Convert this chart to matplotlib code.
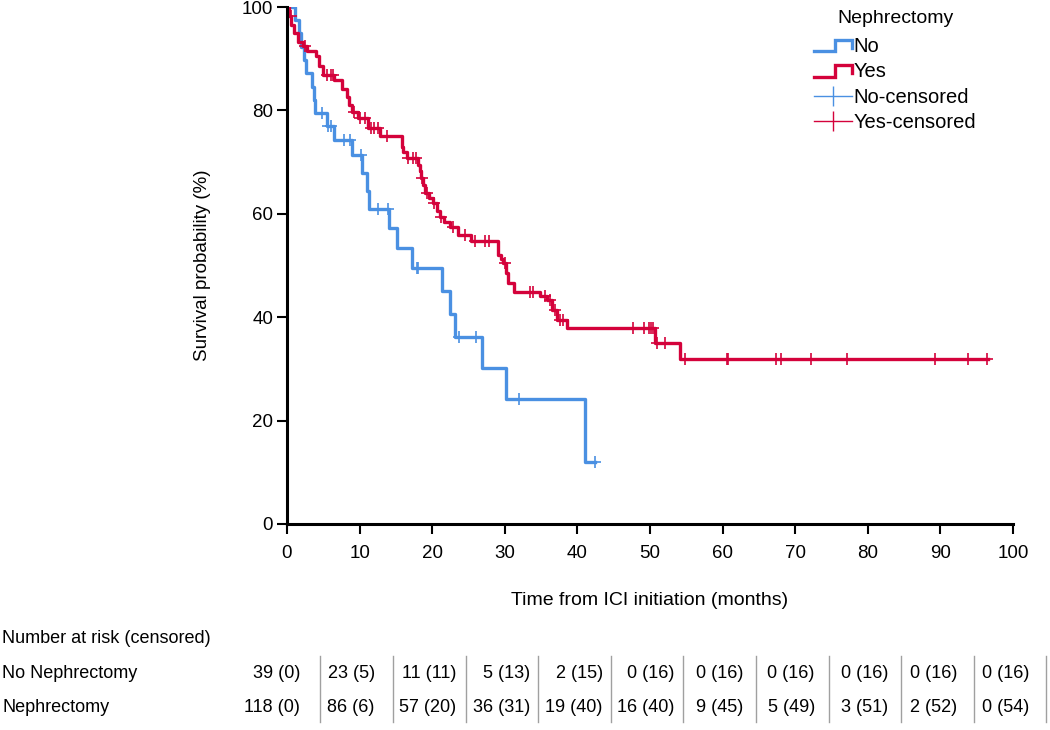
import numpy as np
import matplotlib
matplotlib.use('Agg')
import matplotlib.pyplot as plt
import matplotlib.transforms as mtransforms
from matplotlib.lines import Line2D
from matplotlib.legend_handler import HandlerBase

plt.rcParams['font.family'] = ['Liberation Sans', 'DejaVu Sans']
plt.rcParams['font.size'] = 13

# Kaplan-Meier steps, No nephrectomy
no_times = [0, 1.1, 1.6, 2.0, 2.3, 2.6, 3.5, 3.7, 3.9, 5.5, 6.5, 8.9, 10.4, 11.0, 11.3,
            14.0, 15.1, 17.2, 21.4, 22.5, 23.1, 26.9, 30.1, 41.0]
no_surv = [100, 97.4, 94.9, 92.3, 89.7, 87.2, 84.6, 82.1, 79.5, 77.0, 74.3, 71.4, 67.8, 64.5, 61.0,
           57.2, 53.4, 49.6, 45.1, 40.6, 36.1, 30.1, 24.1, 12.0]
no_end = 42.4
no_cens = [4.8, 5.6, 6.0, 7.8, 8.7, 10.2, 12.6, 13.9, 17.9, 18.1, 23.7, 26.1, 31.9, 42.4]

# Kaplan-Meier steps, Nephrectomy
yes_times = [0, 0.3, 0.6, 1.0, 1.5, 2.2, 2.7, 4.0, 4.4, 4.9, 6.5, 7.6, 8.3, 8.6, 8.9, 9.8, 11.2,
             12.8, 15.8, 16.0, 16.5, 18.1, 18.3, 18.5, 18.8, 19.0, 19.6, 20.1, 20.6, 21.1, 21.6,
             22.5, 23.6, 25.4, 29.1, 29.5, 29.8, 30.2, 30.5, 31.2, 34.8, 35.8, 36.5, 37.2, 38.5,
             50.7, 54.1]
yes_surv = [100, 98.3, 96.6, 95.0, 93.2, 92.4, 91.5, 90.5, 88.5, 86.8, 85.9, 84.2, 82.5, 81.0, 79.7,
            78.5, 76.5, 75.0, 73.0, 72.0, 70.8, 69.5, 68.3, 67.0, 65.5, 64.0, 63.0, 62.0, 60.5, 59.4,
            58.5, 57.5, 55.9, 54.8, 52.0, 51.2, 50.4, 48.5, 46.6, 44.9, 44.1, 43.3, 41.4, 39.5, 37.9,
            35.1, 31.9]
yes_end = 96.6
yes_cens = [0.5, 2.5, 5.5, 6.0, 6.3, 9.2, 10.1, 10.8, 11.6, 12.0, 12.5, 13.8, 16.7, 17.3, 17.8,
            18.6, 19.3, 20.3, 21.2, 22.8, 24.5, 25.9, 27.3, 27.8, 30.0, 33.5, 33.9, 35.5, 36.2,
            36.9, 37.6, 38.0, 47.6, 49.2, 49.8, 50.1, 50.4, 50.9, 52.1, 54.8, 60.6, 60.8, 67.4,
            68.0, 72.2, 77.2, 89.3, 93.8, 96.4]

# number at risk table
risk_times = [0, 10, 20, 30, 40, 50, 60, 70, 80, 90, 100]
risk_no = ['39 (0)', '23 (5)', '11 (11)', '5 (13)', '2 (15)', '0 (16)', '0 (16)', '0 (16)',
           '0 (16)', '0 (16)', '0 (16)']
risk_yes = ['118 (0)', '86 (6)', '57 (20)', '36 (31)', '19 (40)', '16 (40)', '9 (45)', '5 (49)',
            '3 (51)', '2 (52)', '0 (54)']
risk_rows = ['No Nephrectomy', 'Nephrectomy']

c_no = '#4a90e2'
c_yes = '#d4023b'


def surv_at(times, surv, t):
    i = np.searchsorted(times, t, side='right') - 1
    return np.array(surv)[i]


class StepHandler(HandlerBase):
    def create_artists(self, legend, orig_handle, xdescent, ydescent, width, height, fontsize, trans):
        x0, y0 = -xdescent, -ydescent
        xs = [x0, x0 + 0.55 * width, x0 + 0.55 * width, x0 + width, x0 + width]
        ys = [y0 + 0.05 * height, y0 + 0.05 * height, y0 + 0.85 * height, y0 + 0.85 * height, y0 + 0.3 * height]
        ln = Line2D(xs, ys, color=orig_handle.get_color(), lw=orig_handle.get_linewidth(),
                    solid_joinstyle='miter', transform=trans)
        return [ln]


fig = plt.figure(figsize=(10.5, 7.3), dpi=100)
ax = fig.add_axes([0.2733, 0.2822, 0.6915, 0.7082])

l_no, = ax.step(no_times + [no_end], no_surv + [no_surv[-1]], where='post', color=c_no, lw=2.4)
l_yes, = ax.step(yes_times + [yes_end], yes_surv + [yes_surv[-1]], where='post', color=c_yes, lw=2.4)
m_no, = ax.plot(no_cens, surv_at(no_times, no_surv, np.array(no_cens)), ls='none', marker='+',
                ms=9, mew=1.2, color=c_no)
m_yes, = ax.plot(yes_cens, surv_at(yes_times, yes_surv, np.array(yes_cens)), ls='none', marker='+',
                 ms=9, mew=1.2, color=c_yes)

ax.set_xlim(0, 100)
ax.set_ylim(0, 100)
ax.set_xticks(range(0, 101, 10))
ax.set_yticks(range(0, 101, 20))
ax.spines['top'].set_visible(False)
ax.spines['right'].set_visible(False)
ax.spines['left'].set_linewidth(2.2)
ax.spines['bottom'].set_linewidth(2.2)
ax.tick_params(axis='x', direction='out', length=7, width=1.5, pad=8, labelsize=13.5)
ax.tick_params(axis='y', direction='out', length=7, width=1.5, pad=3, labelsize=13.5)
ax.set_xlabel('Time from ICI initiation (months)', labelpad=22, fontsize=14)
ax.set_ylabel('Survival probability (%)', labelpad=22, fontsize=13.5)

h_no = Line2D([], [], color=c_no, lw=2.4)
h_yes = Line2D([], [], color=c_yes, lw=2.4)
h_nc = Line2D([], [], color=c_no, lw=1, marker='|', ms=15, mew=1)
h_yc = Line2D([], [], color=c_yes, lw=1, marker='|', ms=15, mew=1)
leg = fig.legend([h_no, h_yes, h_nc, h_yc], ['No', 'Yes', 'No-censored', 'Yes-censored'],
                 title='Nephrectomy', loc='upper left', bbox_to_anchor=(0.768, 0.997),
                 frameon=False, handlelength=1.85, handletextpad=0.1, labelspacing=0.32,
                 borderaxespad=0, fontsize=14.5,
                 handler_map={h_no: StepHandler(), h_yes: StepHandler()})
leg.get_title().set_fontsize(14)
leg._legend_box.sep = 7

# risk table
tr = mtransforms.blended_transform_factory(ax.transData, fig.transFigure)
fig.text(0.002, 0.126, 'Number at risk (censored)', va='center', ha='left')
row_y = [0.078, 0.0315]
for lab, y in zip(risk_rows, row_y):
    fig.text(0.002, y, lab, va='center', ha='left')
offs = [1.8, 2.1, 3.3, 3.5, 3.5, 3.3, 2.8, 2.7, 2.8, 2.3, 2.2]
for t, o, a, b in zip(risk_times, offs, risk_no, risk_yes):
    ax.text(t + o, row_y[0], a, transform=tr, ha='right', va='center', clip_on=False)
    ax.text(t + o, row_y[1], b, transform=tr, ha='right', va='center', clip_on=False)
    ax.add_line(Line2D([t + 4.6, t + 4.6], [0.102, 0.011], transform=tr, color='#a0a0a0',
                       lw=1, clip_on=False))

fig.savefig('out.png', dpi=100)
